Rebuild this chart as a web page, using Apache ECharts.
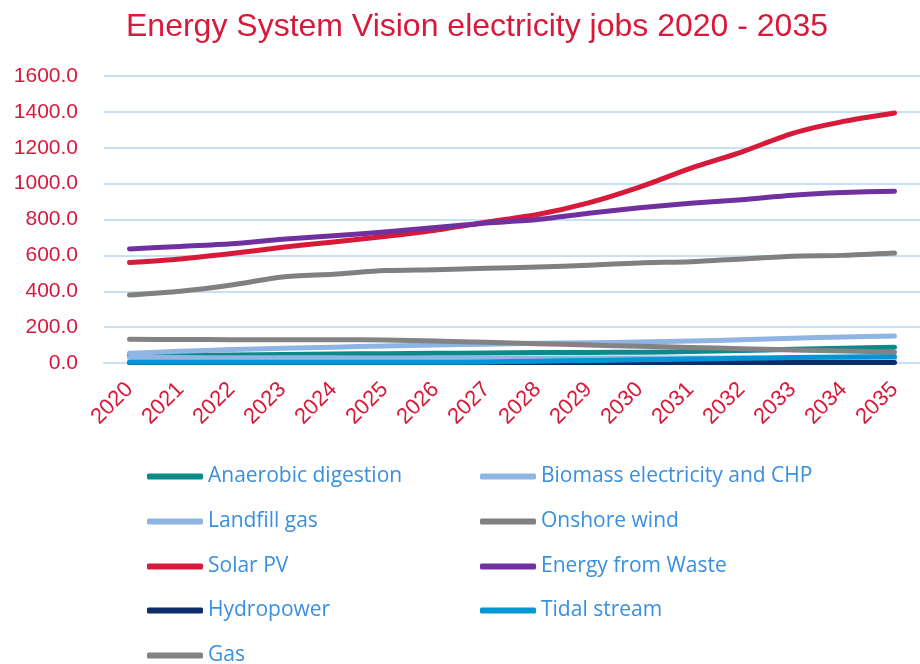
<!DOCTYPE html>
<html>
<head>
<meta charset="utf-8">
<script src="https://cdn.jsdelivr.net/npm/echarts@6/dist/echarts.min.js"></script>
<style>html,body{margin:0;padding:0;background:#fff}#c{width:920px;height:664px}</style>
</head>
<body>
<div id="c"></div>
<script>
const years = ['2020','2021','2022','2023','2024','2025','2026','2027','2028','2029','2030','2031','2032','2033','2034','2035'];
const anaerobicDigestion = [40,42,45,48,50,52,54,56,58,59,60,64,70,76,82,88];
const biomassElectricityCHP = [55,65,75,82,88,95,100,105,110,113,117,122,130,138,145,150];
const landfillGas = [30,30,29,29,29,28,28,28,28,28,28,28,28,28,28,28];
const onshoreWind = [379,400,435,480,495,515,520,528,535,545,558,565,580,595,600,613];
const solarPV = [560,580,610,645,675,705,740,785,828,893,981,1085,1176,1280,1347,1394];
const energyFromWaste = [636,650,665,690,710,730,755,780,800,835,865,890,910,935,950,958];
const hydropower = [3,3,3,3,3,3,3,3,3,3,3,3,3,3,3,3];
const tidalStream = [4,4,4,4,4,4,4,6,10,14,18,22,26,30,33,36];
const gas = [132,131,130,130,130,128,122,115,108,100,93,87,80,73,67,60];
const yTicks = [0,200,400,600,800,1000,1200,1400,1600];

const seriesDefs = [
  ['Anaerobic digestion', anaerobicDigestion, '#0b8a8c'],
  ['Biomass electricity and CHP', biomassElectricityCHP, '#8db4e2'],
  ['Landfill gas', landfillGas, '#8fb6e2'],
  ['Onshore wind', onshoreWind, '#808080'],
  ['Solar PV', solarPV, '#d7193a'],
  ['Energy from Waste', energyFromWaste, '#7030a0'],
  ['Hydropower', hydropower, '#0b2d6b'],
  ['Tidal stream', tidalStream, '#0096d6'],
  ['Gas', gas, '#838383']
];
const legendPos = [
  [147,466],[480,466],[147,511],[480,511],[147,556],[480,556],[147,600],[480,600],[147,645]
];
const red = '#d7193a';
const chart = echarts.init(document.getElementById('c'));
chart.setOption({
  animation: false,
  title: {
    text: 'Energy System Vision electricity jobs 2020 - 2035',
    left: 121, top: 6,
    textStyle: { color: red, fontFamily: 'Liberation Sans', fontSize: 32, fontWeight: 'normal' }
  },
  legend: seriesDefs.map((s, i) => ({
    data: [s[0]],
    left: legendPos[i][0], top: legendPos[i][1],
    icon: 'roundRect', itemWidth: 56, itemHeight: 6, itemGap: 4,
    padding: 0,
    textStyle: { color: '#3a8fde', fontFamily: 'Open Sans', fontSize: 21 }
  })),
  grid: { left: 104, top: 76, width: 822, height: 287 },
  xAxis: {
    type: 'category', data: years, boundaryGap: true,
    axisLine: { show: true, lineStyle: { color: '#c5e0f7', width: 2 } },
    axisTick: { show: false },
    axisLabel: { rotate: 45, margin: 23, color: red, fontFamily: 'Liberation Sans', fontSize: 22, interval: 0 }
  },
  yAxis: {
    type: 'value', min: 0, max: 1600, interval: 200,
    axisLine: { show: false }, axisTick: { show: false },
    splitLine: { lineStyle: { color: '#c5e0f7', width: 2 } },
    axisLabel: { color: red, fontFamily: 'Liberation Sans', fontSize: 21, margin: 26,
      formatter: v => yTicks.includes(v) ? v.toFixed(1) : '' }
  },
  series: seriesDefs.map(s => ({
    name: s[0], type: 'line', data: s[1], showSymbol: false, smooth: 0.25,
    lineStyle: { color: s[2], width: 5, cap: 'round', join: 'round' },
    itemStyle: { color: s[2] }
  }))
});
</script>
</body>
</html>
